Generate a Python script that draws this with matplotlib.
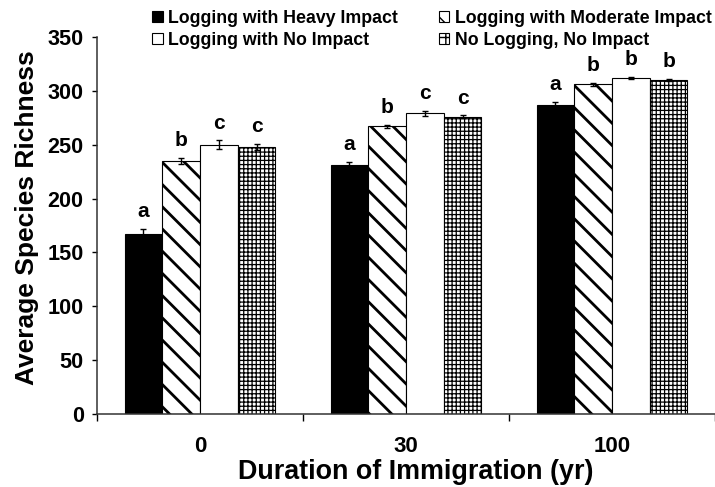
import matplotlib
matplotlib.use("Agg")
import matplotlib.pyplot as plt
from matplotlib.patches import Patch
import numpy as np

durations = ["0", "30", "100"]
series = ["Logging with Heavy Impact", "Logging with Moderate Impact",
          "Logging with No Impact", "No Logging, No Impact"]

heavy = [167, 231, 287]
moderate = [235, 267, 306]
no_impact = [250, 279, 312]
no_logging = [248, 276, 310]

heavy_err = [5, 3, 3]
moderate_err = [3, 1.5, 1.5]
no_impact_err = [4, 2.5, 1]
no_logging_err = [3, 1.5, 1]

heavy_sig = ["a", "a", "a"]
moderate_sig = ["b", "b", "b"]
no_impact_sig = ["c", "c", "b"]
no_logging_sig = ["c", "c", "b"]

plt.rcParams['font.family'] = ['Liberation Sans', 'DejaVu Sans']
plt.rcParams['font.weight'] = 'bold'

# drawn at dpi 200 so the hatch spacing comes out right
fig = plt.figure(figsize=(3.575, 2.435), dpi=200)
ax = fig.add_axes([97 / 715, 73 / 487, 1 - 97 / 715, 377 / 487])

x = np.arange(len(durations))
w = 0.183
styles = [("black", "", 0.5), ("white", "\\\\\\", 1.0),
          ("white", "", 0.5), ("white", "++++++++", 0.45)]
legend_hatch = ["", "\\\\\\", "", "++++"]
vals = [heavy, moderate, no_impact, no_logging]
errs = [heavy_err, moderate_err, no_impact_err, no_logging_err]
sigs = [heavy_sig, moderate_sig, no_impact_sig, no_logging_sig]

for i, (v, e, s) in enumerate(zip(vals, errs, sigs)):
    fc, hatch, hlw = styles[i]
    plt.rcParams['hatch.linewidth'] = hlw
    xs = x + (i - 1.5) * w
    ax.bar(xs, v, w, color=fc, edgecolor="black", linewidth=0.4, hatch=hatch, zorder=2)
    ax.errorbar(xs, v, yerr=e, fmt="none", ecolor="black", elinewidth=0.5,
                capsize=1.2, capthick=0.5, zorder=3)
    for xi, vi, ei, si in zip(xs, v, e, s):
        ax.text(xi, vi + ei + 7, si, ha="center", va="bottom", fontsize=7.5,
                fontweight="bold")

ax.set_xlim(-0.5, 2.45)
ax.set_ylim(0, 350)
ax.set_yticks(range(0, 351, 50))
ax.tick_params(axis="y", direction="out", length=1.8, width=0.5, pad=3, labelsize=7.8)
ax.set_xticks([-0.5, 0.5, 1.5, 2.5])
ax.set_xticklabels([])
ax.set_xticks(x, minor=True)
ax.set_xticklabels(durations, minor=True)
ax.tick_params(axis="x", which="major", direction="out", length=2.5, width=0.5)
ax.tick_params(axis="x", which="minor", length=0, pad=8, labelsize=8)
for sp in ["top", "right"]:
    ax.spines[sp].set_visible(False)
for sp in ["left", "bottom"]:
    ax.spines[sp].set_linewidth(0.55)
    ax.spines[sp].set_color("#333333")

fig.text(27 / 715, 1 - 218 / 487, "Average Species Richness", rotation=90,
         ha="center", va="center", fontsize=9.5, fontweight="bold")
fig.text(416 / 715, 1 - 472 / 487, "Duration of Immigration (yr)",
         ha="center", va="center", fontsize=9.7, fontweight="bold")

handles = []
for i in [0, 2, 1, 3]:
    plt.rcParams['hatch.linewidth'] = 0.5
    handles.append(Patch(facecolor=styles[i][0], edgecolor="black", linewidth=0.4,
                         hatch=legend_hatch[i], label=series[i]))
fig.legend(handles=handles, ncol=2, loc="upper left", bbox_to_anchor=(143 / 715, 1 - 1 / 487),
           frameon=False, fontsize=6.4, handlelength=0.6, handleheight=0.6,
           handletextpad=0.3, columnspacing=2.3, labelspacing=0.28, borderpad=0)

fig.savefig("out.png", dpi=200)
